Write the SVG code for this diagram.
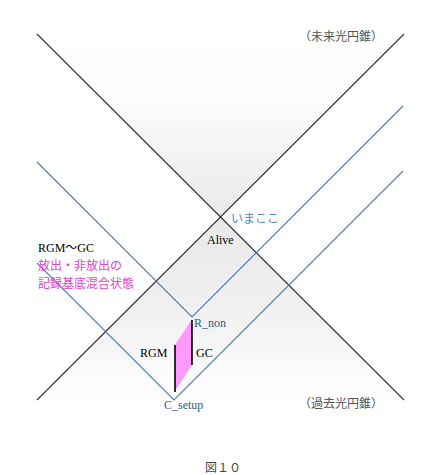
<svg xmlns="http://www.w3.org/2000/svg" width="440" height="475" viewBox="0 0 440 475">
<defs>
<linearGradient id="gFut" x1="0" y1="34" x2="0" y2="217" gradientUnits="userSpaceOnUse">
<stop offset="0" stop-color="#ffffff"/>
<stop offset="0.35" stop-color="#fcfcfc"/>
<stop offset="1" stop-color="#e9e9e9"/>
</linearGradient>
<linearGradient id="gPast" x1="0" y1="217" x2="0" y2="400" gradientUnits="userSpaceOnUse">
<stop offset="0" stop-color="#e9e9e9"/>
<stop offset="0.5" stop-color="#f0f0f0"/>
<stop offset="1" stop-color="#ffffff"/>
</linearGradient>
<style>
.cone{stroke:#3a3a3a;stroke-width:1.2;fill:none}
.wl{stroke:#4d7bad;stroke-width:1.1;fill:none}
.bar{stroke:#000;stroke-width:1.6}
.serif{font-family:"Liberation Serif","Noto Sans CJK JP",serif;font-size:12px}
.jp{font-family:"Noto Sans CJK JP","Noto Sans",sans-serif;font-size:12px}
</style>
</defs>
<rect width="440" height="475" fill="#ffffff"/>
<g id="cones-fill">
<polygon points="37,34 404,34 220.5,217" fill="url(#gFut)"/>
<polygon points="220.5,217 404,400 37,400" fill="url(#gPast)"/>
</g>
<g id="record-region">
<polygon points="192,319 192,365 175,391 175,345" fill="#ff99ff"/>
</g>
<g id="connectors">
<line class="cone" x1="37" y1="34" x2="404" y2="400"/>
<line class="cone" x1="404" y1="34" x2="37" y2="400"/>
<polyline class="wl" points="37,162 192,317 403,106"/>
<polyline class="wl" points="37,263 174,400 403,171"/>
<line class="bar" x1="175" y1="345" x2="175" y2="392"/>
<line class="bar" x1="192" y1="320" x2="192" y2="365"/>
</g>
<g id="future-label"><text class="jp" x="299" y="41" fill="#555555">（未来光円錐）</text></g>
<g id="past-label"><text class="jp" x="299" y="408" fill="#555555">（過去光円錐）</text></g>
<g id="now"><text class="jp" x="231" y="223" fill="#4a86c5">いまここ</text></g>
<g id="alive"><text class="serif" x="207" y="244" fill="#000000">Alive</text></g>
<g id="mixed-state">
<text class="serif" x="38" y="252" fill="#000000">RGM～GC</text>
<text class="jp" x="38" y="270" fill="#dd44cc" font-size="12.3">放出・非放出の</text>
<text class="jp" x="38" y="288" fill="#dd44cc" font-size="12.3">記録基底混合状態</text>
</g>
<g id="r-non"><text class="serif" x="194" y="327" fill="#2e5c8a">R_non</text></g>
<g id="rgm"><text class="serif" x="140" y="357" fill="#000000">RGM</text></g>
<g id="gc"><text class="serif" x="196" y="357" fill="#000000">GC</text></g>
<g id="c-setup"><text class="serif" x="164" y="409" fill="#2e5c8a">C_setup</text></g>
<g id="caption"><text class="jp" x="205" y="472" fill="#444444" font-size="14">図１０</text></g>
</svg>
